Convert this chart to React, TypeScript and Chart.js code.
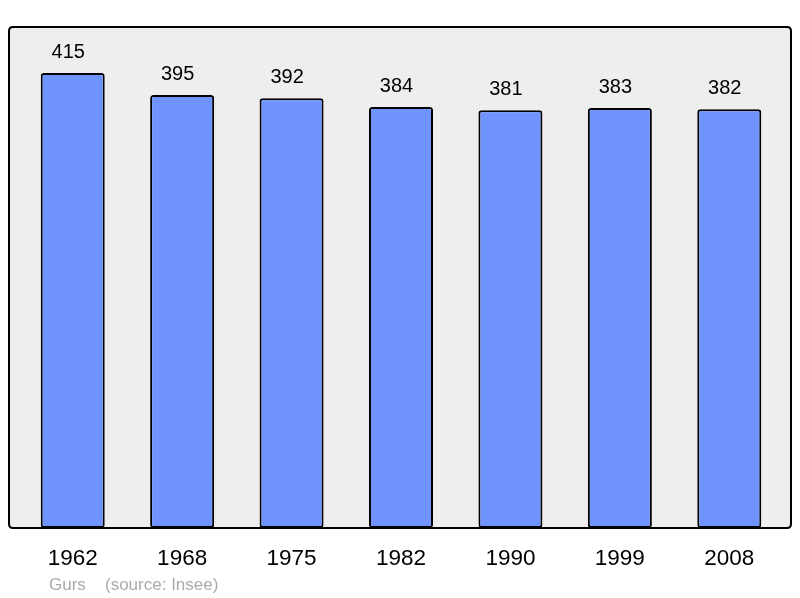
import React, { useEffect, useRef } from "react";
import { Chart, registerables } from "chart.js";

Chart.register(...registerables);

const years = ["1962", "1968", "1975", "1982", "1990", "1999", "2008"];
const population = [415, 395, 392, 384, 381, 383, 382];
const footerName = "Gurs";
const footerSource = "(source: Insee)";

const FONT = "'Liberation Sans', Arial, sans-serif";

function boxPath(ctx: any, left: number, top: number, right: number, bottom: number, r: number) {
  ctx.beginPath();
  ctx.moveTo(left + r, top);
  ctx.lineTo(right - r, top);
  ctx.quadraticCurveTo(right, top, right, top + r);
  ctx.lineTo(right, bottom - r);
  ctx.quadraticCurveTo(right, bottom, right - r, bottom);
  ctx.lineTo(left + r, bottom);
  ctx.quadraticCurveTo(left, bottom, left, bottom - r);
  ctx.lineTo(left, top + r);
  ctx.quadraticCurveTo(left, top, left + r, top);
  ctx.closePath();
}

const decorPlugin = {
  id: "decor",
  beforeDraw(chart: any) {
    const { ctx, chartArea } = chart;
    ctx.save();
    boxPath(ctx, chartArea.left - 9, chartArea.top, chartArea.right + 7, chartArea.bottom, 4);
    ctx.fillStyle = "#eeeeee";
    ctx.fill();
    ctx.restore();
  },
  afterDraw(chart: any) {
    const { ctx, chartArea } = chart;
    const left = chartArea.left - 9;
    const bottom = chartArea.bottom;
    ctx.save();
    boxPath(ctx, left, chartArea.top, chartArea.right + 7, bottom, 4);
    ctx.strokeStyle = "#000000";
    ctx.lineWidth = 2;
    ctx.stroke();

    const meta = chart.getDatasetMeta(0);
    const xScale = chart.scales.x;
    ctx.fillStyle = "#000000";
    ctx.textAlign = "center";
    ctx.textBaseline = "alphabetic";
    ctx.font = `20px ${FONT}`;
    meta.data.forEach((bar: any, i: number) => {
      ctx.fillText(String(population[i]), bar.x - 4.5, bar.y - 15);
    });
    ctx.font = `22.5px ${FONT}`;
    years.forEach((y, i) => {
      ctx.fillText(y, xScale.getPixelForValue(i), bottom + 37);
    });
    ctx.fillStyle = "#aaaaaa";
    ctx.textAlign = "left";
    ctx.font = `17px ${FONT}`;
    ctx.fillText(footerName, left + 40, bottom + 62);
    ctx.fillText(footerSource, left + 96, bottom + 62);
    ctx.restore();
  },
};

export default function App() {
  const ref = useRef<HTMLCanvasElement | null>(null);
  useEffect(() => {
    document.body.style.margin = "0";
    const canvas = ref.current!;
    const chart = new Chart(canvas, {
      type: "bar",
      data: {
        labels: years,
        datasets: [
          {
            data: population,
            backgroundColor: "#7094ff",
            borderColor: "#000000",
            borderWidth: 2,
            borderRadius: 3,
            borderSkipped: false,
            barPercentage: 0.585,
            categoryPercentage: 1,
          },
        ],
      },
      options: {
        responsive: false,
        animation: false,
        devicePixelRatio: 1,
        layout: { padding: { left: 18, right: 16, top: 27, bottom: 70 } },
        plugins: { legend: { display: false }, tooltip: { enabled: false } },
        scales: {
          x: { display: false },
          y: { display: false, min: 0, max: 457 },
        },
      },
      plugins: [decorPlugin],
    });
    return () => chart.destroy();
  }, []);
  return (
    <div style={{ position: "absolute", left: 0, top: 0, width: 800, height: 598 }}>
      <canvas ref={ref} width={800} height={598} style={{ width: 800, height: 598 }} />
    </div>
  );
}
